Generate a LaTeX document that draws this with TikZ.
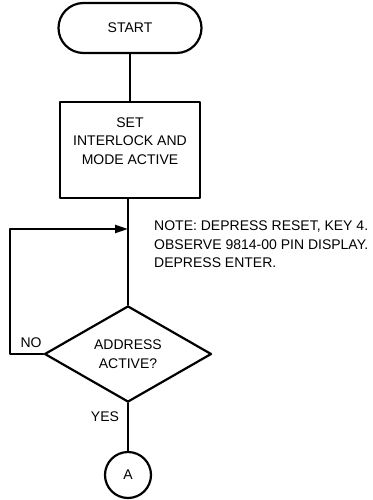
\documentclass[tikz,border=0pt]{standalone}
\usepackage{fontspec}
\setmainfont{Liberation Sans}
\usetikzlibrary{shapes.geometric,arrows.meta}
\tikzset{
  txt/.style={font=\fontsize{14}{18.5}\selectfont,align=center,inner sep=0pt},
  term/.style={txt,draw,line width=2.2pt,rounded corners=25pt,minimum width=143pt,minimum height=50pt},
  proc/.style={txt,draw,line width=2.2pt,minimum width=140pt,minimum height=96pt},
  decide/.style={txt,draw,line width=2.2pt,diamond,minimum width=167pt,minimum height=95pt},
  conn/.style={txt,draw,line width=2.2pt,circle,minimum size=46pt}
}
\begin{document}
\begin{tikzpicture}[x=1pt,y=-1pt,line cap=round,line join=round]
  \useasboundingbox (0,0) rectangle (372,500);
  \node[term] (start) at (130,28) {START};
  \node[proc] (set) at (130,150) {SET\\INTERLOCK AND\\MODE ACTIVE\\\mbox{}};
  \coordinate (join) at (128,229);
  \node[decide] (addr) at (128,354) {ADDRESS\\ACTIVE?};
  \node[conn] (a) at (128,475) {A};
  \node[txt,align=left,anchor=north west] (note) at (154,221)
    {NOTE: DEPRESS RESET, KEY 4.\\OBSERVE 9814-00 PIN DISPLAY.\\DEPRESS ENTER.};
  \draw[line width=2.2pt] (start) -- (start.south |- set.north);
  \draw[line width=2.2pt] (addr.north |- set.south) -- (addr.north);
  \draw[line width=2.2pt,-{Triangle[length=13pt,width=8pt]}] (addr.west) -- (10,354) |- (join);
  \draw[line width=2.2pt] (addr.south) -- (a.north);
  \node[txt] (no) at (31,343) {NO};
  \node[txt] (yes) at (105,417) {YES};
\end{tikzpicture}
\end{document}
